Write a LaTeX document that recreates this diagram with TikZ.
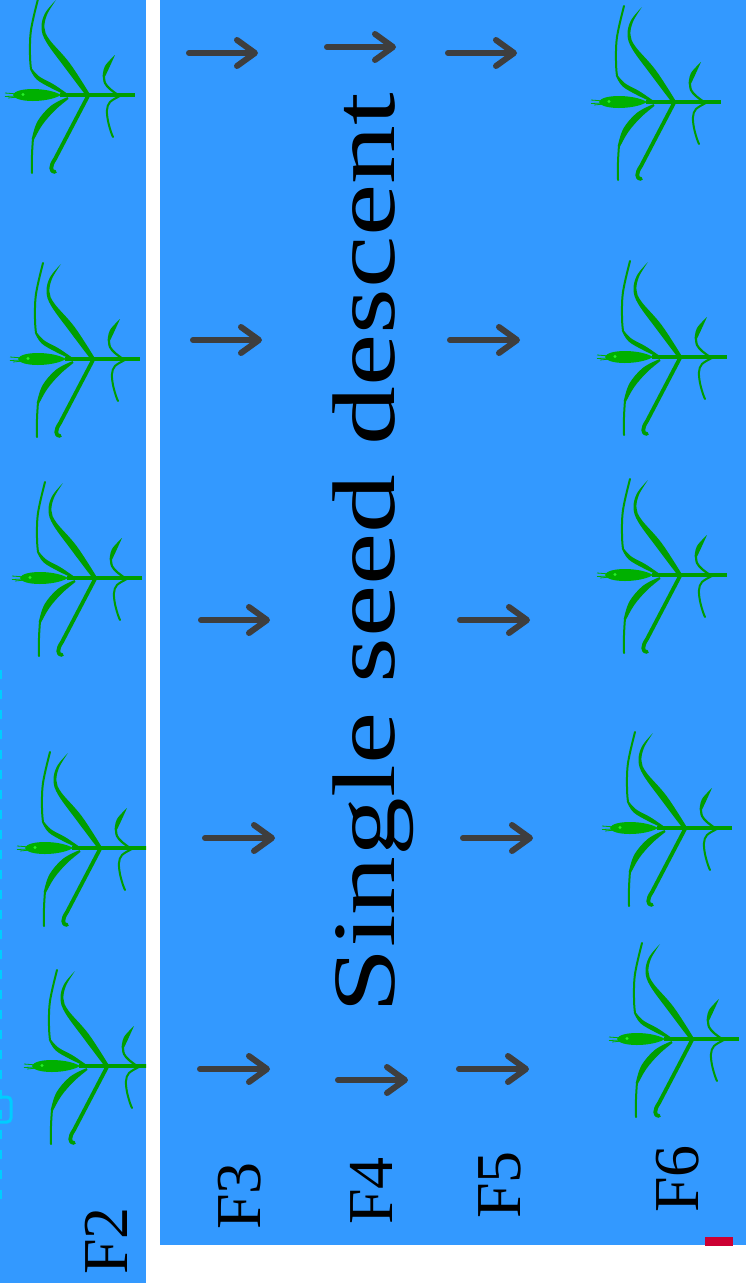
\documentclass[tikz,border=0pt]{standalone}
\usepackage{fontspec}
\setmainfont{Liberation Serif}
\usetikzlibrary{arrows.meta}
\definecolor{bg}{RGB}{51,153,255}
\definecolor{plantgreen}{RGB}{0,158,0}
\definecolor{eargreen}{RGB}{0,176,0}
\definecolor{brightgreen}{RGB}{40,240,40}
\definecolor{arrowgray}{RGB}{62,62,62}
\definecolor{markred}{RGB}{204,0,51}
\definecolor{faintcyan}{RGB}{0,205,255}
\tikzset{
  plant/.pic={
    % stem
    \draw[plantgreen, line width=4pt] (-28,0) -- (47,0);
    % leaf A
    \fill[plantgreen] plot[smooth, tension=0.6] coordinates {(-1.6,1.2) (-23.6,-28) (-41.6,-52.8) (-46.5,-67) (-43.1,-81.5) (-32,-95)} -- plot[smooth, tension=0.6] coordinates {(-32,-95) (-40.9,-80.5) (-43.5,-67) (-38.4,-55.2) (-18.4,-32) (1.6,-1.2)} -- cycle;
    % leaf B
    \fill[plantgreen] plot[smooth, tension=0.6] coordinates {(-21.5,-1.9) (-34.8,-10.9) (-48.7,-18.5) (-56.2,-26.6)} -- plot[smooth, tension=0.6] coordinates {(-57.8,-25.4) (-51.3,-15.5) (-37.2,-7.1) (-22.5,-0.1)} -- cycle;
    \draw[plantgreen, line width=2pt, line cap=round] plot[smooth, tension=0.6] coordinates {(-57,-26) (-58,-40) (-57,-65) (-50,-96)};
    % leaf C
    \fill[plantgreen] plot[smooth, tension=0.6] coordinates {(-20.5,2.1) (-37,10.75) (-50.5,26.35) (-56.1,43.5)} -- plot[smooth, tension=0.6] coordinates {(-53.9,44.5) (-45.5,29.65) (-33,15.25) (-19.5,3.9)} -- cycle;
    \draw[plantgreen, line width=2pt, line cap=round] plot[smooth, tension=0.6] coordinates {(-55,43) (-56,60) (-56,78)};
    % leaf D
    \draw[plantgreen, line width=3.8pt, line cap=round, line join=round] (0,1) -- (-33,64) .. controls (-38,71) and (-38,77) .. (-33,77);
    % leaf E
    \draw[plantgreen, line width=2.2pt, line cap=round] plot[smooth, tension=0.6] coordinates {(30,0) (22,-6) (17,-12) (16,-19)};
    \fill[plantgreen] plot[smooth, tension=0.6] coordinates {(14.6,-18.5) (17,-29) (27,-40)} -- plot[smooth, tension=0.6] coordinates {(27,-40) (21,-26.8) (17.4,-19.2)} -- cycle;
    % leaf F
    \draw[plantgreen, line width=2pt, line cap=round] plot[smooth, tension=0.6] coordinates {(32,1) (22,7) (19,15) (20,26) (23,37) (25,42)};
    % ear
    \draw[eargreen, line width=0.8pt] (-83,-2) -- (-70,-1) (-83,1.5) -- (-70,1) (-80,3) -- (-70,2);
    \fill[eargreen] (-75,0) .. controls (-73,-8) and (-40,-8) .. (-27,0) .. controls (-40,8) and (-73,8) .. (-75,0) -- cycle;
    \fill[brightgreen] (-65,-0.5) circle (1.7);
  },
  arr/.style={draw=arrowgray, line width=6pt, line cap=round,
    -{Straight Barb[length=18pt, width=26pt, round]}},
  gen/.style={font=\fontsize{64}{64}\selectfont, rotate=90, anchor=base,
    inner sep=0pt, text=black},
  title/.style={font=\fontsize{89}{89}\selectfont, rotate=90, xscale=1.32,
    anchor=base, inner sep=0pt, text=black},
}
\begin{document}
\begin{tikzpicture}[x=1pt,y=-1pt]
\useasboundingbox (0,0) rectangle (746,1283);
\fill[white] (0,0) rectangle (746,1283);
\fill[bg] (0,0) rectangle (146,1283);
\fill[bg] (160,0) rectangle (746,1245);
\fill[markred] (705,1237) rectangle (733,1246);
% left panel: faint cyan remnants and F2 plants
\begin{scope}
  \clip (0,0) rectangle (146,1283);
  \draw[faintcyan, line width=2.5pt, dash pattern=on 9pt off 11pt] (0.5,670) -- (0.5,1200);
  \draw[faintcyan, line width=3pt, rounded corners=4pt] (-6,1097) rectangle (11,1122);
  \foreach \px/\py in {88/95, 93/359, 95/578, 100/848, 107/1066}
    \pic at (\px,\py) {plant};
\end{scope}
% F6 plants
\foreach \px/\py in {674/102, 680/357, 680/575, 685/828, 692/1039}
  \pic at (\px,\py) {plant};
% arrows
\foreach \n/\xa/\xb/\yy in {
  a31/186/258/53, a32/190/262/340, a33/198/270/620, a34/202/275/838, a35/197/270/1069,
  a41/324/396/47, a45/335/408/1080,
  a51/445/517/53, a52/447/520/340, a53/457/530/620, a54/460/533/838, a55/456/529/1069} {
  \coordinate (\n-s) at (\xa+3,\yy);
  \coordinate (\n-e) at (\xb,\yy);
  \draw[arr] (\n-s) -- (\n-e);
}
% labels
\node[gen] (f2) at (127,1241) {F2};
\node[gen] (f3) at (260,1196) {F3};
\node[gen] (f4) at (392,1191) {F4};
\node[gen] (f5) at (520,1185) {F5};
\node[gen] (f6) at (698,1179) {F6};
\node[title] (ssd) at (394,553) {Single seed descent};
\end{tikzpicture}
\end{document}
